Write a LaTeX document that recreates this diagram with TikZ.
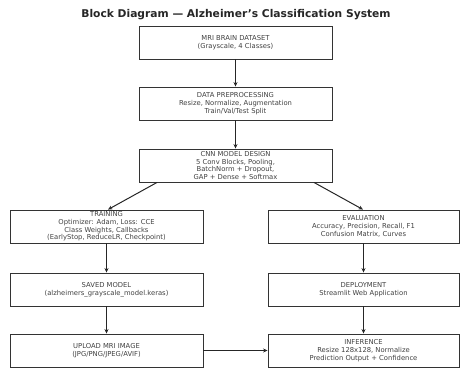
\documentclass[tikz,border=0pt]{standalone}
\usepackage{fontspec}
\setmainfont{DejaVu Sans}
\usetikzlibrary{arrows.meta}
\begin{document}
\begin{tikzpicture}[x=1pt,y=-1pt,
  blk/.style={draw=black!80, line width=0.9pt, minimum width=193pt, minimum height=33pt, inner sep=0pt, align=center, font=\fontsize{6.8}{7.7}\selectfont, text=black!75},
  arr/.style={draw=black!85, line width=1pt, -{Stealth[length=4.5pt,width=4pt]}}]
\useasboundingbox (0,0) rectangle (460,371);
\node[font=\bfseries\fontsize{10.7}{12}\selectfont, text=black!85] (title) at (236,15) {Block Diagram — Alzheimer’s Classification System};
\node[blk] (ds) at (235.5,42.5) {MRI BRAIN DATASET\\(Grayscale, 4 Classes)};
\node[blk] (pre) at (235.5,103.5) {DATA PREPROCESSING\\Resize, Normalize, Augmentation\\Train/Val/Test Split};
\node[blk] (cnn) at (235.5,165.5) {CNN MODEL DESIGN\\5 Conv Blocks, Pooling,\\BatchNorm + Dropout,\\GAP + Dense + Softmax};
\node[blk] (tr) at (106.5,226.5) {TRAINING\\Optimizer: Adam, Loss: CCE\\Class Weights, Callbacks\\(EarlyStop, ReduceLR, Checkpoint)};
\node[blk, minimum width=191pt] (ev) at (363.5,226.5) {EVALUATION\\Accuracy, Precision, Recall, F1\\Confusion Matrix, Curves};
\node[blk] (sm) at (106.5,289.5) {SAVED MODEL\\(alzheimers\_grayscale\_model.keras)};
\node[blk, minimum width=191pt] (dep) at (363.5,289.5) {DEPLOYMENT\\Streamlit Web Application};
\node[blk] (up) at (106.5,350.5) {UPLOAD MRI IMAGE\\(JPG/PNG/JPEG/AVIF)};
\node[blk, minimum width=191pt] (inf) at (363.5,350.5) {INFERENCE\\Resize 128x128, Normalize\\Prediction Output + Confidence};
\draw[arr] (ds) -- (pre);
\draw[arr] (pre) -- (cnn);
\draw[arr] (cnn.south -| 157,0) -- (tr.north -| 108,0);
\draw[arr] (cnn.south -| 314,0) -- (ev.north -| 363,0);
\draw[arr] (tr) -- (sm);
\draw[arr] (ev) -- (dep);
\draw[arr] (sm) -- (up);
\draw[arr] (dep) -- (inf);
\draw[arr] (up) -- (inf);
\end{tikzpicture}
\end{document}
